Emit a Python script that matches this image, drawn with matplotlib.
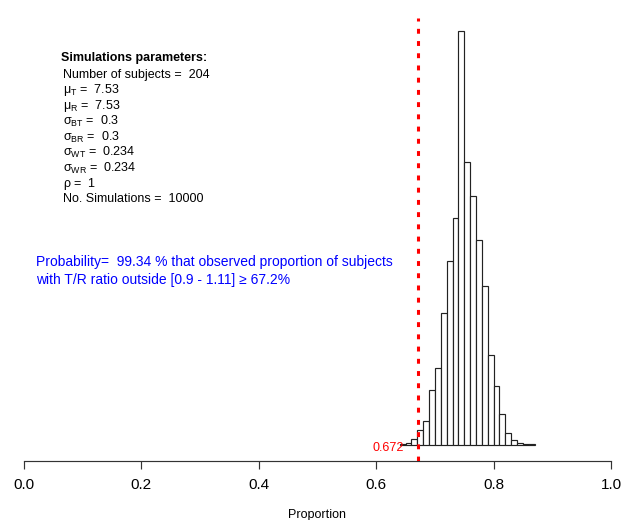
import matplotlib
matplotlib.use("Agg")
import matplotlib.pyplot as plt
import numpy as np

plt.rcParams['font.family'] = ['Liberation Sans', 'DejaVu Sans']
plt.rcParams['mathtext.fontset'] = 'custom'
plt.rcParams['mathtext.rm'] = 'Liberation Sans'
plt.rcParams['mathtext.it'] = 'Liberation Sans:italic'
plt.rcParams['mathtext.bf'] = 'Liberation Sans:bold'

# ---- data ----
bin_edges = [0.64, 0.65, 0.66, 0.67, 0.68, 0.69, 0.70, 0.71, 0.72, 0.73, 0.74,
             0.75, 0.76, 0.77, 0.78, 0.79, 0.80, 0.81, 0.82, 0.83, 0.84, 0.85,
             0.86, 0.87]
counts = [3, 11, 28, 65, 106, 244, 346, 592, 824, 1016, 1852,
          1264, 1116, 915, 712, 402, 265, 137, 52, 24, 10, 6, 3]
threshold = 0.672
xticks = [0.0, 0.2, 0.4, 0.6, 0.8, 1.0]

param_title = "Simulations parameters:"
param_lines = [
    "Number of subjects =  204",
    r"$\mathrm{\mu_{T}}$ =  7.53",
    r"$\mathrm{\mu_{R}}$ =  7.53",
    r"$\mathrm{\sigma_{BT}}$ =  0.3",
    r"$\mathrm{\sigma_{BR}}$ =  0.3",
    r"$\mathrm{\sigma_{WT}}$ =  0.234",
    r"$\mathrm{\sigma_{WR}}$ =  0.234",
    r"$\mathrm{\rho}$ =  1",
    "No. Simulations =  10000",
]
prob_text = ("Probability=  99.34 % that observed proportion of subjects\n"
             "with T/R ratio outside [0.9 - 1.11] \u2265 67.2%")

W, H = 622, 520
fig = plt.figure(figsize=(W / 100, H / 100), dpi=100)

def fx(px):
    return px / W

def fy(py):
    return 1 - py / H

ax_top, ax_bot = 18, 461
ax = fig.add_axes([0, fy(ax_bot), 1, (ax_bot - ax_top) / H])

x0_px, x1_px = 24, 611
scale = x1_px - x0_px
ax.set_xlim(-x0_px / scale, (W - x0_px) / scale)

M = max(counts)
# y=0 at 445 px, max at 31 px
span = M * (ax_bot - ax_top) / (445 - 31)
ymin = -span * (ax_bot - 445) / (ax_bot - ax_top)
ax.set_ylim(ymin, ymin + span)

lefts = np.array(bin_edges[:-1])
widths = np.diff(bin_edges)
ax.bar(lefts, counts, width=widths, align='edge', facecolor='white',
       edgecolor='#222222', linewidth=0.85, zorder=2)

ax.axvline(threshold, color='#ff0000', linewidth=2.2,
           linestyle=(0, (1.6, 2.4)), zorder=3)
ax.annotate(f"{threshold}", xy=(threshold, 0), xytext=(-10.5, -2.2),
            textcoords='offset points', ha='right', va='center',
            color='#ff0000', fontsize=9)

for s in ['top', 'right', 'left']:
    ax.spines[s].set_visible(False)
ax.spines['bottom'].set_bounds(0, 1)
ax.spines['bottom'].set_linewidth(0.85)
ax.spines['bottom'].set_color('#333333')
ax.set_yticks([])
ax.set_xticks(xticks)
ax.set_xticklabels([f"{t:.1f}" for t in xticks], fontsize=11)
ax.tick_params(axis='x', direction='out', length=6, width=0.85, pad=6,
               color='#333333')
ax.set_facecolor('none')

fig.text(fx(317.5), fy(518), "Proportion", ha='center', va='baseline', fontsize=9)

fig.text(fx(61), fy(58), param_title, ha='left', va='center',
         fontsize=9, fontweight='bold')
for i, line in enumerate(param_lines):
    fig.text(fx(63), fy(75 + i * 15.5), line, ha='left', va='center',
             fontsize=9)

fig.text(fx(36), fy(271), prob_text, ha='left', va='center', fontsize=10,
         color='#0000ff', linespacing=1.3)

fig.savefig("out.png", dpi=100)
